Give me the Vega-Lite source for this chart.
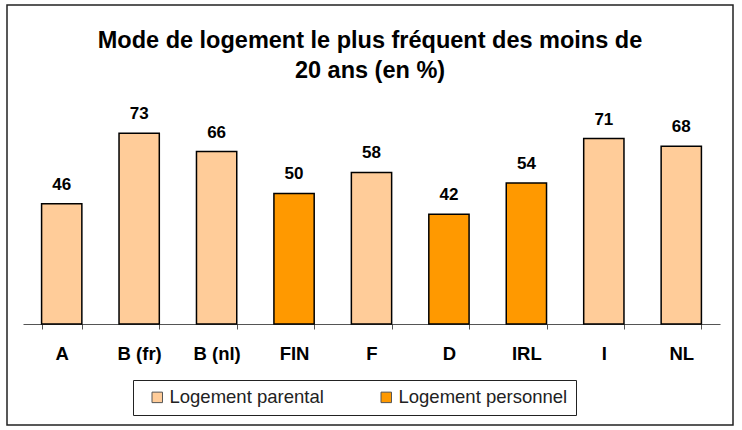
{
  "$schema": "https://vega.github.io/schema/vega-lite/v6.json",
  "width": 726,
  "height": 420,
  "autosize": {"type": "none"},
  "padding": {"left": 7, "top": 5, "right": 9, "bottom": 5},
  "background": "white",
  "title": {
    "text": ["Mode de logement le plus fréquent des moins de", "20 ans (en %)"],
    "anchor": "middle",
    "frame": "group",
    "orient": "top",
    "offset": -77,
    "font": "Liberation Sans",
    "fontSize": 23.5,
    "fontWeight": "bold",
    "lineHeight": 30,
    "color": "black"
  },
  "data": {
    "values": [
      {"pays": "A", "valeur": 46, "type": "Logement parental"},
      {"pays": "B (fr)", "valeur": 73, "type": "Logement parental"},
      {"pays": "B (nl)", "valeur": 66, "type": "Logement parental"},
      {"pays": "FIN", "valeur": 50, "type": "Logement personnel"},
      {"pays": "F", "valeur": 58, "type": "Logement parental"},
      {"pays": "D", "valeur": 42, "type": "Logement personnel"},
      {"pays": "IRL", "valeur": 54, "type": "Logement personnel"},
      {"pays": "I", "valeur": 71, "type": "Logement parental"},
      {"pays": "NL", "valeur": 68, "type": "Logement parental"}
    ]
  },
  "encoding": {
    "x": {
      "field": "pays",
      "type": "nominal",
      "sort": null,
      "scale": {"range": [16, 713], "paddingInner": 0.48, "paddingOuter": 0.24},
      "axis": {
        "title": null,
        "labelAngle": 0,
        "labelFont": "Liberation Sans",
        "labelFontSize": 18.5,
        "labelFontWeight": "bold",
        "labelColor": "black",
        "labelPadding": 15,
        "tickBand": "extent",
        "tickSize": 5,
        "tickColor": "#555",
        "domainColor": "#555",
        "offset": -101,
        "grid": false
      }
    },
    "y": {
      "field": "valeur",
      "type": "quantitative",
      "scale": {"domain": [0, 80], "range": [319, 110]},
      "axis": null
    }
  },
  "layer": [
    {
      "mark": {"type": "bar", "stroke": "black", "strokeWidth": 1.5},
      "encoding": {
        "color": {
          "field": "type",
          "type": "nominal",
          "scale": {"domain": ["Logement parental", "Logement personnel"], "range": ["#FFCC99", "#FF9900"]},
          "legend": {
            "orient": "none",
            "legendX": 126,
            "legendY": 375,
            "direction": "horizontal",
            "columns": 2,
            "title": null,
            "strokeColor": "#222",
            "padding": 8,
            "symbolType": "square",
            "symbolSize": 110,
            "symbolStrokeColor": "#555",
            "symbolStrokeWidth": 1,
            "labelFont": "Liberation Sans",
            "labelFontSize": 18.5,
            "labelColor": "#222",
            "labelLimit": 300,
            "columnPadding": 46,
            "labelOffset": 3,
            "symbolOffset": 7
          }
        }
      }
    },
    {
      "mark": {"type": "text", "baseline": "middle", "dy": -19, "font": "Liberation Sans", "fontSize": 17, "fontWeight": "bold", "color": "black"},
      "encoding": {"text": {"field": "valeur", "type": "quantitative"}}
    }
  ],
  "config": {"view": {"stroke": "#222", "strokeWidth": 1.5}}
}
